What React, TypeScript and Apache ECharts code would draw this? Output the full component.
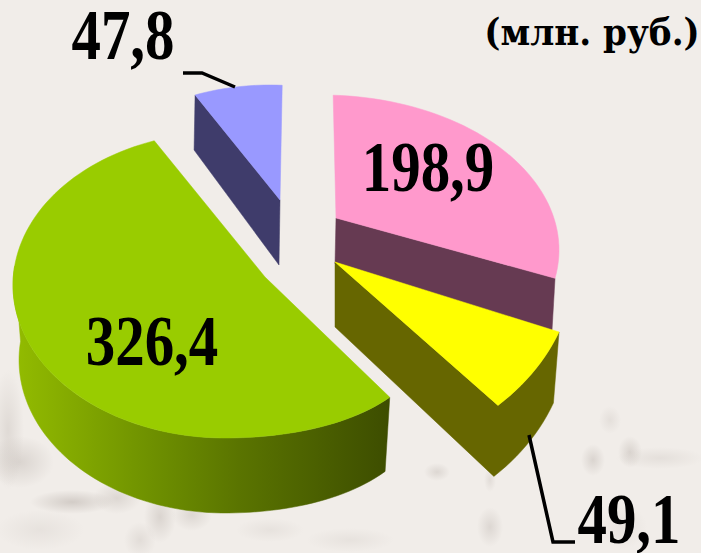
import React, { useEffect, useRef } from "react";
import * as echarts from "echarts";

const categories = ["Розовый", "Жёлтый", "Зелёный", "Синий"];
const seriesValues = [198.9, 49.1, 326.4, 47.8];
const unitLabel = "(млн. руб.)";

const total = seriesValues.reduce((a, b) => a + b, 0);
const fmt = (v: number) => v.toFixed(1).replace(".", ",");

// Hand-fitted projection of each exploded slice of the old 3D pie.
const layouts: any[] = [
  { apex: [336, 218], c: [322, 250], r: [237, 155], t0: 2.7, k: 0.85, top: "#ff99cc", wall: "#663a52", kind: "end",
    apexDepth: 46, arcDepth: 52, arcDx: -3, label: [428, 167] },
  { apex: [335, 262], c: [330, 262], r: [245, 197], t0: 110.8, k: 0.912, top: "#ffff00", wall: "#666600", kind: "yellow",
    apexDepth: 65, arcDepth: 71, bottomRx: 239, label: [629, 519] },
  { apex: [265, 277], c: [225, 285], r: [212, 153], t0: 129, k: 1.12, top: "#99cc00", kind: "outer", warp: 0.00059,
    bottomC: [225, 360], bottomRx: 206, label: [152, 341] },
  { apex: [280, 200], c: [270, 195], r: [180, 110], t0: 335.4, k: 1.03, top: "#9999ff", wall: "#3f3c6b", kind: "start",
    apexDepth: 65, arcDepth: 55, arcDx: -1, label: [123, 35] },
];

const leaders = [
  [[183, 73], [202, 73], [235, 87]],
  [[529, 435], [553, 542], [575, 542]],
];

// Faint engraving of the paper background: cx, cy, rx, ry, strength
const blobs = [
  [72, 502, 42, 12, 0.6], [20, 462, 34, 26, 0.45], [8, 430, 16, 60, 0.35], [117, 498, 24, 16, 0.4], [160, 517, 16, 26, 0.45],
  [192, 515, 20, 16, 0.4], [140, 540, 16, 18, 0.3], [40, 530, 44, 20, 0.2], [490, 527, 13, 20, 0.4], [437, 472, 13, 9, 0.4],
  [490, 480, 6, 12, 0.3], [593, 460, 12, 16, 0.45], [630, 452, 12, 16, 0.45], [610, 420, 11, 14, 0.25], [660, 458, 44, 11, 0.25],
  [350, 540, 44, 12, 0.2], [623, 527, 24, 22, 0.2], [270, 530, 34, 12, 0.2],
];

const arcPts = (c: number[], rx: number, ry: number, a: number, b: number, warp = 0) => {
  const n = Math.max(6, Math.ceil(Math.abs(b - a) / 2));
  const out: number[][] = [];
  for (let i = 0; i <= n; i++) {
    const t = ((a + ((b - a) * i) / n) * Math.PI) / 180;
    const dx = rx * Math.sin(t);
    const bend = dx > 0 ? warp * dx * dx : 0;
    out.push([c[0] + dx, c[1] - ry * Math.cos(t) + bend]);
  }
  return out;
};

const renderItem = (params: any, api: any) => {
  const i = params.dataIndex;
  const v = api.value(0);
  const l = layouts[i];
  const sweep = (v / total) * 360 * l.k;
  const t1 = l.t0 + sweep;
  const arc = arcPts(l.c, l.r[0], l.r[1], l.t0, t1, l.warp || 0);
  const first = arc[0];
  const last = arc[arc.length - 1];
  const children: any[] = [];
  const poly = (points: number[][], fill: any) =>
    children.push({ type: "polygon", shape: { points }, style: { fill, stroke: fill, lineWidth: 0.5 } });

  if (l.kind === "end") {
    poly([l.apex, last, [last[0] + l.arcDx, last[1] + l.arcDepth], [l.apex[0] - 1, l.apex[1] + l.apexDepth]], l.wall);
  } else if (l.kind === "start") {
    poly([first, [first[0] + l.arcDx, first[1] + l.arcDepth], [l.apex[0] - 1, l.apex[1] + l.apexDepth], l.apex], l.wall);
  } else if (l.kind === "yellow") {
    const bottom = arcPts([l.c[0], l.c[1] + l.arcDepth], l.bottomRx, l.r[1], l.t0, t1);
    poly([l.apex, [l.apex[0], l.apex[1] + l.apexDepth], ...bottom.slice().reverse(), ...arc], l.wall);
  } else if (l.kind === "outer") {
    const a = arcPts(l.c, l.r[0], l.r[1], l.t0, 277, l.warp);
    const b = arcPts(l.bottomC, l.bottomRx, l.r[1], l.t0, 277, l.warp);
    const grad = new echarts.graphic.LinearGradient(0, 0, 1, 0, [
      { offset: 0, color: "#93bc00" },
      { offset: 0.37, color: "#6e9000" },
      { offset: 0.6, color: "#5a7400" },
      { offset: 1, color: "#3d4d00" },
    ]);
    poly([...a, ...b.slice().reverse()], grad);
  }
  poly([l.apex, ...arc], l.top);

  children.push({
    type: "text",
    x: l.label[0],
    y: l.label[1],
    scaleX: 0.83,
    style: {
      text: fmt(v),
      x: 0,
      y: 0,
      align: "center",
      verticalAlign: "middle",
      lineHeight: 50,
      font: 'bold 71px "Liberation Serif"',
      fill: "#000",
    },
  });
  return { type: "group", children };
};

export default function App() {
  const ref = useRef<HTMLDivElement>(null);
  useEffect(() => {
    const chart = echarts.init(ref.current!, null, { renderer: "svg" });
    chart.setOption({
      animation: false,
      backgroundColor: "#f1ede9",
      graphic: {
        elements: [
          ...blobs.map(([cx, cy, rx, ry, s]) => ({
            type: "circle",
            x: cx,
            y: cy,
            scaleX: rx / ry,
            shape: { cx: 0, cy: 0, r: ry },
            style: {
              fill: new echarts.graphic.RadialGradient(0.5, 0.5, 0.5, [
                { offset: 0, color: `rgba(190,182,176,${s})` },
                { offset: 1, color: "rgba(190,182,176,0)" },
              ]),
            },
            silent: true,
            z: 0,
          })),
          ...leaders.map((points) => ({
            type: "polyline",
            shape: { points },
            style: { stroke: "#000", lineWidth: 3.5, fill: "none" },
            z: 10,
          })),
          {
            type: "text",
            x: 592,
            y: 32,
            scaleX: 0.9,
            style: {
              text: unitLabel,
              x: 0,
              y: 0,
              align: "center",
              verticalAlign: "middle",
              font: 'bold 38px "DejaVu Serif"',
              fill: "#000",
            },
            z: 10,
          },
        ],
      },
      series: [
        {
          type: "custom",
          coordinateSystem: "none",
          renderItem,
          silent: true,
          z: 5,
          data: seriesValues.map((v, i) => ({ name: categories[i], value: [v] })),
        },
      ],
    });
    return () => chart.dispose();
  }, []);
  return <div ref={ref} style={{ position: "fixed", left: 0, top: 0, width: 701, height: 553 }} />;
}
